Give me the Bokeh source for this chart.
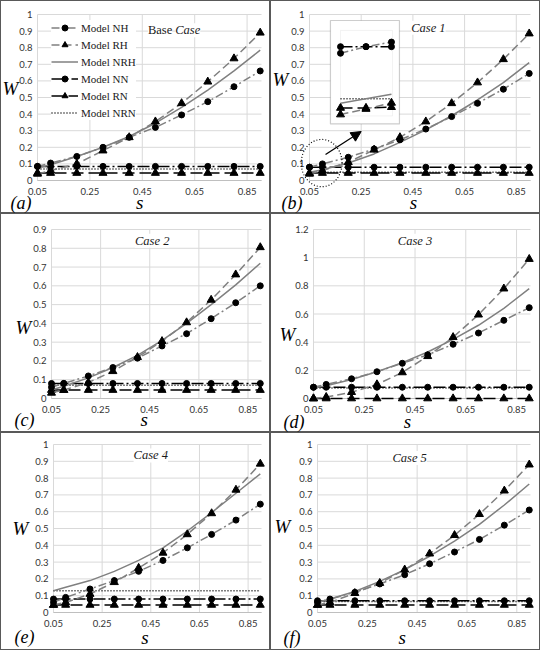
import numpy as np
from bokeh.plotting import figure
from bokeh.layouts import gridplot
from bokeh.models import (Label, Legend, LegendItem, Range1d, Arrow, NormalHead,
                          BoxAnnotation)
from bokeh.core.properties import value
from bokeh.embed import file_html
from bokeh.resources import INLINE

# ---------------- data ----------------
S = [0.05, 0.1, 0.2, 0.3, 0.4, 0.5, 0.6, 0.7, 0.8, 0.9]
X_TICKS = [0.05, 0.25, 0.45, 0.65, 0.85]
Y_TICKS_10 = [0, 0.1, 0.2, 0.3, 0.4, 0.5, 0.6, 0.7, 0.8, 0.9, 1.0]
Y_TICKS_09 = [0, 0.1, 0.2, 0.3, 0.4, 0.5, 0.6, 0.7, 0.8, 0.9]
Y_TICKS_12 = [0, 0.2, 0.4, 0.6, 0.8, 1.0, 1.2]
MODELS = ["Model NH", "Model RH", "Model NRH", "Model NN", "Model RN", "Model NRN"]
PANEL_TAGS = ["(a)", "(b)", "(c)", "(d)", "(e)", "(f)"]

# Base case
NH_BASE = [0.085, 0.105, 0.145, 0.20, 0.26, 0.32, 0.395, 0.475, 0.565, 0.66]
RH_BASE = [0.04, 0.06, 0.10, 0.18, 0.26, 0.355, 0.465, 0.595, 0.735, 0.89]
NRH_BASE = [0.075, 0.095, 0.145, 0.20, 0.265, 0.345, 0.44, 0.545, 0.66, 0.785]
NN_BASE = [0.085, 0.085, 0.085, 0.085, 0.085, 0.085, 0.085, 0.085, 0.085, 0.085]
RN_BASE = [0.045, 0.045, 0.045, 0.045, 0.045, 0.045, 0.045, 0.045, 0.045, 0.045]
NRN_BASE = [0.07, 0.07, 0.07, 0.07, 0.07, 0.07, 0.07, 0.07, 0.07, 0.07]

# Case 1
NH_C1 = [0.08, 0.10, 0.14, 0.19, 0.245, 0.31, 0.385, 0.465, 0.55, 0.645]
RH_C1 = [0.04, 0.06, 0.11, 0.185, 0.26, 0.355, 0.465, 0.59, 0.73, 0.885]
NRH_C1 = [0.05, 0.065, 0.105, 0.16, 0.23, 0.305, 0.39, 0.485, 0.59, 0.71]
NN_C1 = [0.08, 0.08, 0.08, 0.08, 0.08, 0.08, 0.08, 0.08, 0.08, 0.08]
RN_C1 = [0.045, 0.045, 0.045, 0.045, 0.045, 0.045, 0.045, 0.045, 0.045, 0.045]
NRN_C1 = [0.05, 0.05, 0.05, 0.05, 0.05, 0.05, 0.05, 0.05, 0.05, 0.05]

# Case 2
NH_C2 = [0.06, 0.08, 0.12, 0.165, 0.215, 0.28, 0.345, 0.425, 0.51, 0.60]
RH_C2 = [0.03, 0.045, 0.085, 0.145, 0.22, 0.305, 0.405, 0.525, 0.66, 0.805]
NRH_C2 = [0.045, 0.065, 0.11, 0.165, 0.23, 0.31, 0.40, 0.50, 0.605, 0.72]
NN_C2 = [0.08, 0.08, 0.08, 0.08, 0.08, 0.08, 0.08, 0.08, 0.08, 0.08]
RN_C2 = [0.045, 0.045, 0.045, 0.045, 0.045, 0.045, 0.045, 0.045, 0.045, 0.045]
NRN_C2 = [0.07, 0.07, 0.07, 0.07, 0.07, 0.07, 0.07, 0.07, 0.07, 0.07]

# Case 3
NH_C3 = [0.08, 0.10, 0.14, 0.19, 0.25, 0.31, 0.385, 0.465, 0.555, 0.645]
RH_C3 = [0.0, 0.01, 0.045, 0.10, 0.185, 0.30, 0.435, 0.595, 0.78, 0.99]
NRH_C3 = [0.075, 0.09, 0.135, 0.19, 0.255, 0.33, 0.42, 0.52, 0.64, 0.78]
NN_C3 = [0.08, 0.08, 0.08, 0.08, 0.08, 0.08, 0.08, 0.08, 0.08, 0.08]
RN_C3 = [0.0, 0.0, 0.0, 0.0, 0.0, 0.0, 0.0, 0.0, 0.0, 0.0]
NRN_C3 = [0.075, 0.075, 0.075, 0.075, 0.075, 0.075, 0.075, 0.075, 0.075, 0.075]

# Case 4
NH_C4 = [0.06, 0.09, 0.14, 0.19, 0.245, 0.31, 0.385, 0.465, 0.55, 0.645]
RH_C4 = [0.045, 0.06, 0.11, 0.18, 0.265, 0.355, 0.465, 0.59, 0.73, 0.885]
NRH_C4 = [0.13, 0.15, 0.19, 0.245, 0.31, 0.385, 0.485, 0.595, 0.71, 0.825]
NN_C4 = [0.08, 0.08, 0.08, 0.08, 0.08, 0.08, 0.08, 0.08, 0.08, 0.08]
RN_C4 = [0.045, 0.045, 0.045, 0.045, 0.045, 0.045, 0.045, 0.045, 0.045, 0.045]
NRN_C4 = [0.13, 0.13, 0.13, 0.13, 0.13, 0.13, 0.13, 0.13, 0.13, 0.13]

# Case 5
NH_C5 = [0.06, 0.08, 0.12, 0.17, 0.225, 0.29, 0.36, 0.435, 0.52, 0.61]
RH_C5 = [0.045, 0.06, 0.115, 0.175, 0.255, 0.35, 0.46, 0.585, 0.725, 0.88]
NRH_C5 = [0.06, 0.08, 0.125, 0.185, 0.255, 0.335, 0.425, 0.525, 0.64, 0.765]
NN_C5 = [0.07, 0.07, 0.07, 0.07, 0.07, 0.07, 0.07, 0.07, 0.07, 0.07]
RN_C5 = [0.045, 0.045, 0.045, 0.045, 0.045, 0.045, 0.045, 0.045, 0.045, 0.045]
NRN_C5 = [0.065, 0.065, 0.065, 0.065, 0.065, 0.065, 0.065, 0.065, 0.065, 0.065]

# Inset of Case 1 (magnified view of the circled region)
INSET_X = [0.05, 0.055, 0.06]
INSET_NH = [0.0757, 0.0800, 0.0830]
INSET_NN = [0.0800, 0.0800, 0.0800]
INSET_NRN = [0.0460, 0.0460, 0.0460]
INSET_NRH = [0.0430, 0.0460, 0.0490]
INSET_RN = [0.0400, 0.0400, 0.0405]
INSET_RH = [0.0357, 0.0393, 0.0433]

# ---------------- styles ----------------
GRAY = "#808080"
BLACK = "#000000"
SERIF = "Liberation Serif"
TICK_FONT = "Lato"
GRID = "#d9d9d9"
X_MIN, X_MAX = 0.05, 0.905

STYLE = {
    "Model NH": dict(color=GRAY, dash="8 3 2 3", marker="circle", size=6),
    "Model RH": dict(color=GRAY, dash="8 4", marker="triangle", size=8),
    "Model NRH": dict(color=GRAY, dash="solid", marker=None, size=0),
    "Model NN": dict(color=BLACK, dash="12 3 2 3", marker="circle", size=6),
    "Model RN": dict(color=BLACK, dash="12 5", marker="triangle", size=8),
    "Model NRN": dict(color=BLACK, dash="1 2", marker=None, size=0),
}


def draw_series(p, xs, ys, key, level="glyph"):
    st = STYLE[key]
    rs = [p.line(xs, ys, line_color=st["color"], line_width=1.5,
                 line_dash=st["dash"], level=level)]
    if st["marker"]:
        rs.append(p.scatter(xs, ys, marker=st["marker"], size=st["size"],
                            fill_color=BLACK, line_color=BLACK, level=level))
    return rs


def make_panel(cfg):
    yt = cfg["yticks"]
    ymax = yt[-1]
    W, H, L, R, T, B = cfg["w"], cfg["h"], cfg["l"], cfg["r"], cfg["t"], cfg["b"]
    kx = (X_MAX - X_MIN) / (W - L - R)      # data units per pixel
    ky = ymax / (H - T - B)
    p = figure(width=W, height=H, output_backend="svg", toolbar_location=None,
               x_axis_type=None, y_axis_type=None,
               x_range=Range1d(X_MIN - L * kx, X_MAX + R * kx),
               y_range=Range1d(-B * ky, ymax + T * ky),
               min_border_left=0, min_border_right=0,
               min_border_top=0, min_border_bottom=0)
    p.border_fill_alpha = 0
    p.background_fill_alpha = 0
    p.outline_line_color = None
    p.styles = {"box-shadow": "inset 0 0 0 1px #595959"}

    # grid lines
    p.segment(x0=[X_MIN] * len(yt), y0=yt, x1=[X_MAX] * len(yt), y1=yt,
              line_color=GRID, line_width=1)
    p.segment(x0=X_TICKS, y0=[0] * len(X_TICKS), x1=X_TICKS, y1=[ymax] * len(X_TICKS),
              line_color=GRID, line_width=1)
    p.segment(x0=[X_MIN], y0=[0], x1=[X_MAX], y1=[0], line_color="#bfbfbf", line_width=1)

    # tick labels
    p.text(x=X_TICKS, y=[-11 * ky] * len(X_TICKS), text=[f"{v:g}" for v in X_TICKS],
           text_align="center", text_baseline="middle", text_font=value(TICK_FONT),
           text_font_size=value("9.5px"), text_color="#333333")
    p.text(x=[X_MIN - 5 * kx] * len(yt), y=yt, text=[f"{v:g}" for v in yt],
           text_align="right", text_baseline="middle", text_font=value(TICK_FONT),
           text_font_size=value("9.5px"), text_color="#333333")

    d = cfg["data"]
    rends = {}
    for key in ["Model NRN", "Model RN", "Model NN", "Model NRH", "Model RH", "Model NH"]:
        rends[key] = draw_series(p, S, d[key], key)

    if cfg.get("legend"):
        items = [LegendItem(label=m, renderers=rends[m]) for m in MODELS]
        leg = Legend(items=items, location=(14 + L, 60 + B), margin=0, padding=2,
                     spacing=2, glyph_width=27, glyph_height=15, label_height=15,
                     label_standoff=3, label_text_font=SERIF,
                     label_text_font_size="11px", label_text_color="#1a1a1a",
                     border_line_color=None,
                     background_fill_color="white", background_fill_alpha=1)
        p.add_layout(leg)

    # case title
    cx, cy = cfg["case_pos"]
    if cfg["case"] == "Base Case":
        p.add_layout(Label(x=cx - 1.5 * kx, y=cy, text="Base", text_align="right",
                           text_baseline="middle", text_font=SERIF,
                           text_font_size="12.5px", text_color="#1a1a1a",
                           background_fill_color="white"))
        p.add_layout(Label(x=cx + 1.5 * kx, y=cy, text="Case", text_align="left",
                           text_baseline="middle", text_font=SERIF,
                           text_font_style="italic", text_font_size="12.5px",
                           text_color="#1a1a1a", background_fill_color="white"))
    else:
        p.add_layout(Label(x=cx, y=cy, text=cfg["case"], text_align="center",
                           text_baseline="middle", text_font=SERIF,
                           text_font_style="italic", text_font_size="12.5px",
                           text_color="#1a1a1a", background_fill_color="white"))

    # W label
    p.add_layout(Label(x=X_MIN + cfg["w_dx"] * kx, y=cfg["w_frac"] * ymax,
                       text="W", text_align="center", text_baseline="middle",
                       text_font=SERIF, text_font_style="italic",
                       text_font_size="19px", text_color=BLACK))
    # s label (bottom of text box given in px below the plot area)
    p.add_layout(Label(x=cfg["s_x"], y=-cfg["s_bot"] * ky,
                       text="s", text_align="center", text_baseline="bottom",
                       text_font=SERIF, text_font_style="italic",
                       text_font_size="19px", text_color=BLACK))
    # panel tag
    p.add_layout(Label(x=X_MIN + cfg["tag_dx"] * kx, y=-cfg["tag_bot"] * ky,
                       text=cfg["tag"], text_align="left", text_baseline="bottom",
                       text_font=SERIF, text_font_style="italic",
                       text_font_size="18px", text_color=BLACK))
    return p


def data_of(nh, rh, nrh, nn, rn, nrn):
    return {"Model NH": nh, "Model RH": rh, "Model NRH": nrh,
            "Model NN": nn, "Model RN": rn, "Model NRN": nrn}


CFGS = [
    dict(w=270, h=213, l=37, r=9, t=14, b=33, yticks=Y_TICKS_10, legend=True,
         data=data_of(NH_BASE, RH_BASE, NRH_BASE, NN_BASE, RN_BASE, NRN_BASE),
         case="Base Case", case_pos=(0.57, 0.905), w_dx=-27, w_frac=0.557,
         s_x=0.44, s_bot=32.5, tag=PANEL_TAGS[0], tag_dx=-27, tag_bot=32.5),
    dict(w=270, h=213, l=39, r=10, t=14, b=33, yticks=Y_TICKS_10,
         data=data_of(NH_C1, RH_C1, NRH_C1, NN_C1, RN_C1, NRN_C1),
         case="Case 1", case_pos=(0.51, 0.92), w_dx=-29, w_frac=0.61,
         s_x=0.452, s_bot=32.5, tag=PANEL_TAGS[1], tag_dx=-28, tag_bot=32.5),
    dict(w=270, h=219, l=51, r=9, t=16, b=34, yticks=Y_TICKS_09,
         data=data_of(NH_C2, RH_C2, NRH_C2, NN_C2, RN_C2, NRN_C2),
         case="Case 2", case_pos=(0.46, 0.84), w_dx=-28, w_frac=0.42,
         s_x=0.427, s_bot=31, tag=PANEL_TAGS[2], tag_dx=-37, tag_bot=31),
    dict(w=270, h=219, l=43, r=10, t=16, b=34, yticks=Y_TICKS_12,
         data=data_of(NH_C3, RH_C3, NRH_C3, NN_C3, RN_C3, NRN_C3),
         case="Case 3", case_pos=(0.45, 1.12), w_dx=-26, w_frac=0.378,
         s_x=0.42, s_bot=33.5, tag=PANEL_TAGS[3], tag_dx=-30, tag_bot=33.5),
    dict(w=270, h=218, l=53, r=9, t=12, b=38, yticks=Y_TICKS_10,
         data=data_of(NH_C4, RH_C4, NRH_C4, NN_C4, RN_C4, NRN_C4),
         case="Case 4", case_pos=(0.45, 0.935), w_dx=-33, w_frac=0.50,
         s_x=0.426, s_bot=35, tag=PANEL_TAGS[4], tag_dx=-39, tag_bot=34),
    dict(w=270, h=218, l=47, r=10, t=12, b=38, yticks=Y_TICKS_10,
         data=data_of(NH_C5, RH_C5, NRH_C5, NN_C5, RN_C5, NRN_C5),
         case="Case 5", case_pos=(0.42, 0.92), w_dx=-35, w_frac=0.51,
         s_x=0.39, s_bot=35, tag=PANEL_TAGS[5], tag_dx=-34, tag_bot=35.5),
]

panels = [make_panel(c) for c in CFGS]

# ---------------- inset in Case 1 ----------------
pb = panels[1]
OUTER = dict(left=0.131, right=0.398, bottom=0.341, top=0.964)
INNER = dict(left=0.170, right=0.371, bottom=0.389, top=0.904)
INSET_XLIM = (0.05, 0.0602)
INSET_YLIM = (0.0348, 0.0906)

pb.add_layout(BoxAnnotation(fill_color="white", fill_alpha=1, line_color="#595959",
                            line_width=1.2, **OUTER))
pb.add_layout(BoxAnnotation(fill_alpha=0, line_color="#d4d4d4", line_width=1, **INNER))


def imx(vals):
    return [INNER["left"] + (v - INSET_XLIM[0]) / (INSET_XLIM[1] - INSET_XLIM[0])
            * (INNER["right"] - INNER["left"]) for v in vals]


def imy(vals):
    return [INNER["bottom"] + (v - INSET_YLIM[0]) / (INSET_YLIM[1] - INSET_YLIM[0])
            * (INNER["top"] - INNER["bottom"]) for v in vals]


for key, vals in [("Model NRN", INSET_NRN), ("Model RN", INSET_RN), ("Model NN", INSET_NN),
                  ("Model NRH", INSET_NRH), ("Model RH", INSET_RH), ("Model NH", INSET_NH)]:
    draw_series(pb, imx(INSET_X), imy(vals), key, level="overlay")

# dotted circle around the magnified region
t = np.linspace(0, 2 * np.pi, 90)
ECX, ECY, ERX, ERY = 0.097, 0.105, 0.079, 0.1425
pb.line(list(ECX + ERX * np.cos(t)), list(ECY + ERY * np.sin(t)),
        line_color=BLACK, line_dash="1 2", line_width=1.2, level="overlay")
pb.add_layout(Arrow(end=NormalHead(size=10, fill_color=BLACK, line_color=BLACK),
                    x_start=0.112, y_start=0.157, x_end=0.25, y_end=0.295,
                    line_color=BLACK, line_width=1.3))

grid = gridplot([[panels[0], panels[1]], [panels[2], panels[3]], [panels[4], panels[5]]],
                toolbar_location=None)

open("out.html", "w").write(file_html(grid, INLINE))
